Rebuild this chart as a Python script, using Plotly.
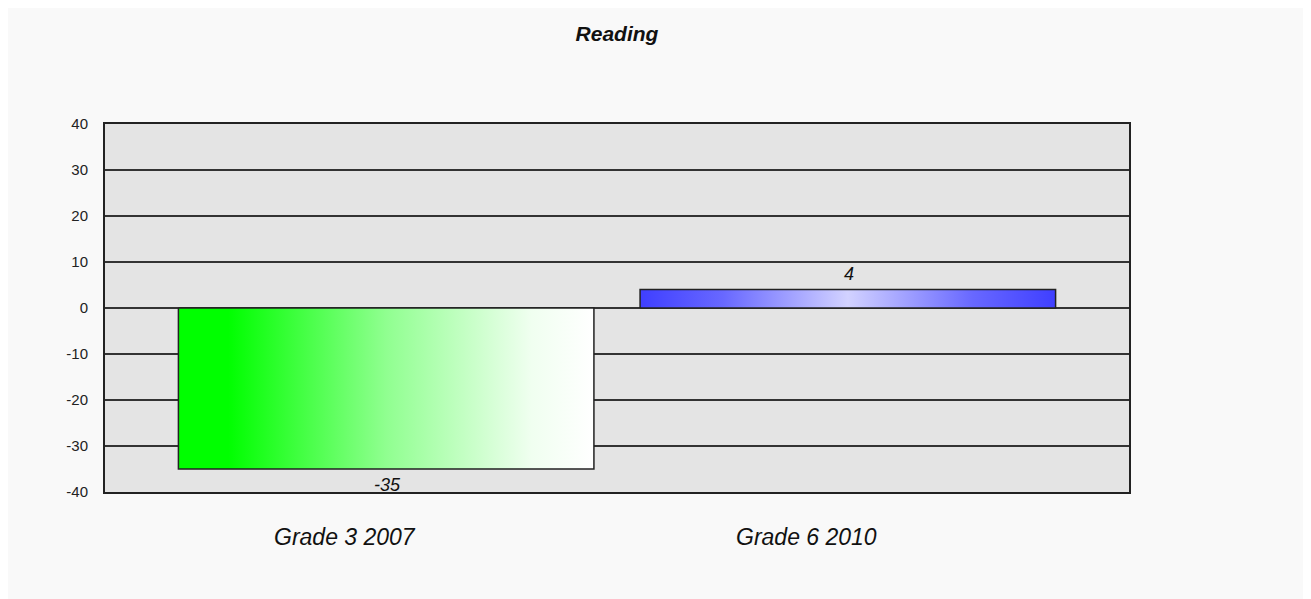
import plotly.graph_objects as go

# chart data
categories = ["Grade 3 2007", "Grade 6 2010"]
values = [-35, 4]
value_labels = ["-35", "4"]
gradients = [
    [[0, "#00ff00"], [0.12, "#00ff00"], [0.5, "#90ff90"], [0.85, "#f0fff0"], [1, "#ffffff"]],
    [[0, "#3f3fff"], [0.2, "#6868ff"], [0.5, "#d2d2ff"], [0.8, "#6868ff"], [1, "#3f3fff"]],
]
y_ticks = [40, 30, 20, 10, 0, -10, -20, -30, -40]
y_tick_text = ["40", "30", "20", "10", "0", "-10", "-20", "-30", "-40"]

BAR_W = 0.9
FONT = "Arial, Liberation Sans, sans-serif"

fig = go.Figure()

# bars drawn as filled polygons so they can carry a gradient fill
for i, (cat, val) in enumerate(zip(categories, values)):
    x0, x1 = i - BAR_W / 2, i + BAR_W / 2
    fig.add_trace(go.Scatter(
        x=[x0, x1, x1, x0, x0],
        y=[0, 0, val, val, 0],
        mode="lines",
        fill="toself",
        fillgradient=dict(type="horizontal", colorscale=gradients[i], start=x0, stop=x1),
        line=dict(color="#222222", width=1.5),
        hoverinfo="skip",
        showlegend=False,
    ))

# value labels above positive / below negative bars
for i, (val, lab) in enumerate(zip(values, value_labels)):
    fig.add_annotation(
        x=i, y=val, xref="x", yref="y",
        text=lab, showarrow=False,
        yanchor="middle", yshift=16 if val >= 0 else -16, xshift=1,
        font=dict(family=FONT, size=18, color="#111111", style="italic"),
    )

# category labels, sitting below the plot
for i, cat in enumerate(categories):
    fig.add_annotation(
        x=i, y=-0.1223, xref="x", yref="paper",
        text=cat, showarrow=False, xshift=-41, yanchor="middle",
        font=dict(family=FONT, size=23, color="#111111", style="italic"),
    )

fig.update_layout(
    width=1311,
    height=599,
    margin=dict(l=97, r=190, t=116, b=115),
    paper_bgcolor="#f9f9f9",
    plot_bgcolor="#e4e4e4",
    title=dict(
        text="<b><i>Reading</i></b>",
        x=0.5, xref="paper", xanchor="center",
        y=1 - 26 / 599, yref="container", yanchor="middle",
        font=dict(family=FONT, size=21, color="#111111"),
    ),
    font=dict(family=FONT),
)

fig.update_xaxes(
    range=[-0.609, 1.609],
    showgrid=False, zeroline=False, showticklabels=False,
    showline=True, mirror=True, linecolor="#222222", linewidth=2,
)
fig.update_yaxes(
    range=[-40, 40],
    tickvals=y_ticks,
    ticktext=y_tick_text,
    showgrid=True, gridcolor="#333333", gridwidth=2,
    zeroline=True, zerolinecolor="#333333", zerolinewidth=2,
    showline=True, mirror=True, linecolor="#222222", linewidth=2,
    ticklabelstandoff=12,
    tickfont=dict(family=FONT, size=15, color="#222222"),
)

fig.write_html("out.html")
